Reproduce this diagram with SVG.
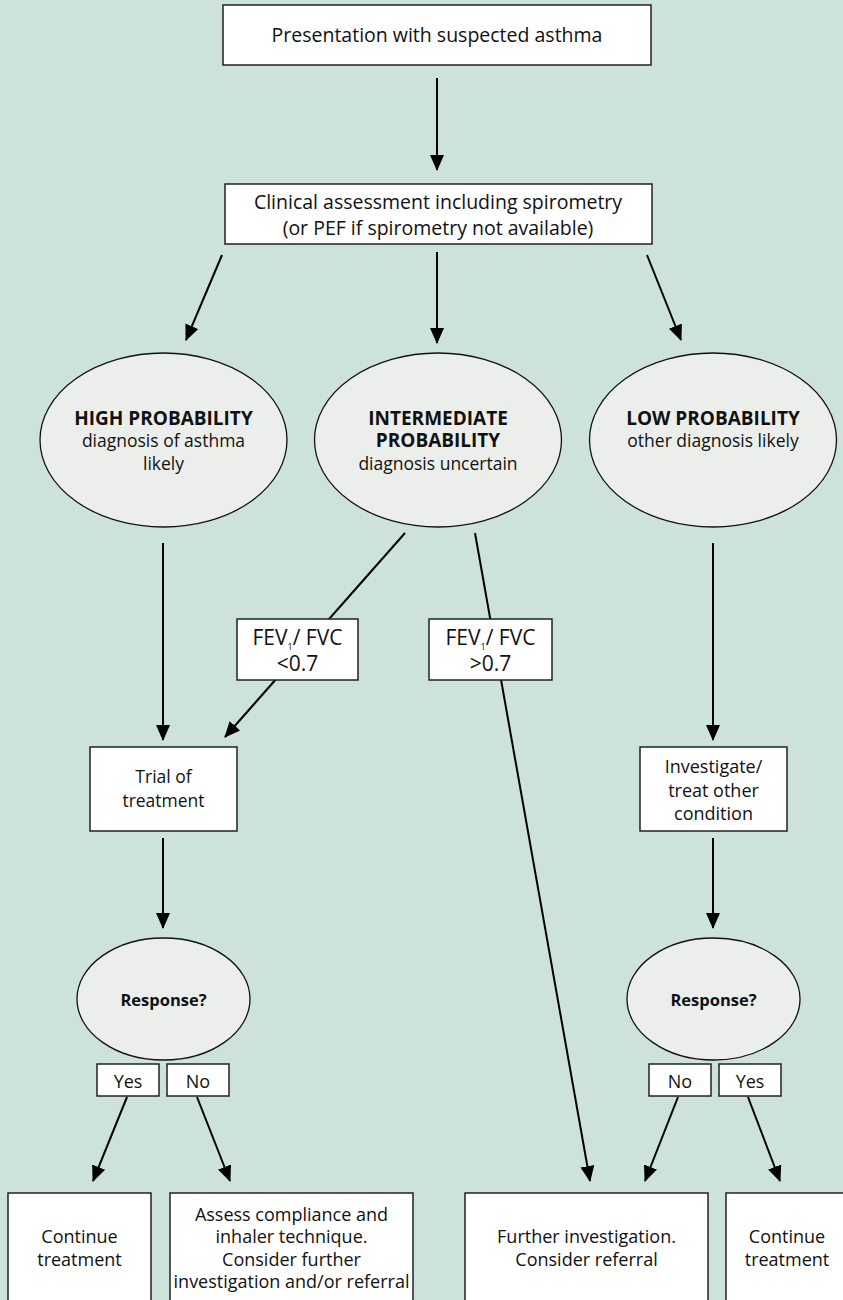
<svg xmlns="http://www.w3.org/2000/svg" width="843" height="1300" viewBox="0 0 843 1300">
<style>
.bg{fill:#cce2da}
.box{fill:#ffffff;stroke:#222;stroke-width:1.5}
.ell{fill:#eceeec;stroke:#111;stroke-width:1.3}
.t{font-family:"Open Sans","DejaVu Sans",sans-serif;font-size:18px;fill:#111;text-anchor:middle}
.top{font-size:19.5px}
.eb{font-weight:bold;font-size:19px}
.er{font-size:17.5px}
.rb{font-weight:bold;font-size:16.5px}
.fev{font-size:21px}
.c{stroke:#000;stroke-width:2;fill:none}
.ca{stroke:#000;stroke-width:2;fill:none;marker-end:url(#ah)}
</style>
<defs>
<marker id="ah" markerUnits="userSpaceOnUse" markerWidth="16" markerHeight="16" viewBox="0 0 16 16" refX="15" refY="8" orient="auto">
<path d="M0,1 L16,8 L0,15 Z" fill="#000"/>
</marker>
</defs>
<rect class="bg" x="0" y="0" width="843" height="1300"/>

<g id="connectors">
<line class="ca" x1="437" y1="78" x2="437" y2="170"/>
<line class="ca" x1="222" y1="255" x2="186" y2="340"/>
<line class="ca" x1="437" y1="252" x2="437" y2="343"/>
<line class="ca" x1="647" y1="255" x2="681" y2="340"/>
<line class="ca" x1="163" y1="543" x2="163" y2="740"/>
<line class="ca" x1="405" y1="533" x2="225" y2="737"/>
<line class="ca" x1="475" y1="533" x2="590" y2="1181"/>
<line class="ca" x1="713" y1="543" x2="713" y2="740"/>
<line class="ca" x1="163" y1="838" x2="163" y2="928"/>
<line class="ca" x1="713" y1="838" x2="713" y2="928"/>
<line class="ca" x1="127" y1="1097" x2="93" y2="1181"/>
<line class="ca" x1="197" y1="1097" x2="230" y2="1181"/>
<line class="ca" x1="678" y1="1097" x2="645" y2="1181"/>
<line class="ca" x1="748" y1="1097" x2="780" y2="1181"/>
</g>

<g id="n-presentation">
<rect class="box" x="223" y="5" width="428" height="60"/>
<text class="t top" x="437" y="42">Presentation with suspected asthma</text>
</g>

<g id="n-clinical">
<rect class="box" x="225" y="184" width="427" height="60"/>
<text class="t top" x="438" y="209">Clinical assessment including spirometry</text>
<text class="t top" x="438" y="235">(or PEF if spirometry not available)</text>
</g>

<g id="n-high">
<ellipse class="ell" cx="163.5" cy="440" rx="123.5" ry="87"/>
<text class="t eb" x="163.5" y="425">HIGH PROBABILITY</text>
<text class="t er" x="163.5" y="447">diagnosis of asthma</text>
<text class="t er" x="163.5" y="470">likely</text>
</g>

<g id="n-intermediate">
<ellipse class="ell" cx="438" cy="440" rx="123.5" ry="87"/>
<text class="t eb" x="438" y="425">INTERMEDIATE</text>
<text class="t eb" x="438" y="447">PROBABILITY</text>
<text class="t er" x="438" y="470">diagnosis uncertain</text>
</g>

<g id="n-low">
<ellipse class="ell" cx="713" cy="440" rx="123.5" ry="87"/>
<text class="t eb" x="713" y="425">LOW PROBABILITY</text>
<text class="t er" x="713" y="447">other diagnosis likely</text>
</g>

<g id="n-fev-low">
<rect class="box" x="237" y="619" width="121" height="61"/>
<text class="t fev" x="297.5" y="645">FEV<tspan font-size="9" dy="5">1</tspan><tspan dy="-5">/ FVC</tspan></text>
<text class="t fev" x="297.5" y="671">&lt;0.7</text>
</g>

<g id="n-fev-high">
<rect class="box" x="429" y="619" width="123" height="61"/>
<text class="t fev" x="490.5" y="645">FEV<tspan font-size="9" dy="5">1</tspan><tspan dy="-5">/ FVC</tspan></text>
<text class="t fev" x="490.5" y="671">&gt;0.7</text>
</g>

<g id="n-trial">
<rect class="box" x="90" y="747" width="147" height="84"/>
<text class="t er" x="163.5" y="783">Trial of</text>
<text class="t er" x="163.5" y="807">treatment</text>
</g>

<g id="n-investigate">
<rect class="box" x="640" y="747" width="147" height="84"/>
<text class="t" x="713.5" y="773">Investigate/</text>
<text class="t" x="713.5" y="797">treat other</text>
<text class="t" x="713.5" y="820">condition</text>
</g>

<g id="n-response-left">
<ellipse class="ell" cx="163.5" cy="999" rx="86.5" ry="61"/>
<text class="t rb" x="163.5" y="1006">Response?</text>
</g>

<g id="n-response-right">
<ellipse class="ell" cx="713.5" cy="999" rx="86.5" ry="61"/>
<text class="t rb" x="713.5" y="1006">Response?</text>
</g>

<g id="n-yes-left">
<rect class="box" x="97" y="1064" width="62" height="32"/>
<text class="t" x="128" y="1088">Yes</text>
</g>
<g id="n-no-left">
<rect class="box" x="167" y="1064" width="62" height="32"/>
<text class="t" x="198" y="1088">No</text>
</g>
<g id="n-no-right">
<rect class="box" x="649" y="1064" width="62" height="32"/>
<text class="t" x="680" y="1088">No</text>
</g>
<g id="n-yes-right">
<rect class="box" x="719" y="1064" width="62" height="32"/>
<text class="t" x="750" y="1088">Yes</text>
</g>

<g id="n-continue-left">
<rect class="box" x="8" y="1193" width="143" height="120"/>
<text class="t" x="79.5" y="1243">Continue</text>
<text class="t" x="79.5" y="1266">treatment</text>
</g>

<g id="n-assess">
<rect class="box" x="170" y="1193" width="243" height="120"/>
<text class="t" x="291.5" y="1221">Assess compliance and</text>
<text class="t" x="291.5" y="1243">inhaler technique.</text>
<text class="t" x="291.5" y="1266">Consider further</text>
<text class="t" x="291.5" y="1288">investigation and/or referral</text>
</g>

<g id="n-further">
<rect class="box" x="465" y="1193" width="243" height="120"/>
<text class="t" x="586.5" y="1243">Further investigation.</text>
<text class="t" x="586.5" y="1266">Consider referral</text>
</g>

<g id="n-continue-right">
<rect class="box" x="726" y="1193" width="130" height="120"/>
<text class="t" x="787" y="1243">Continue</text>
<text class="t" x="787" y="1266">treatment</text>
</g>
</svg>
